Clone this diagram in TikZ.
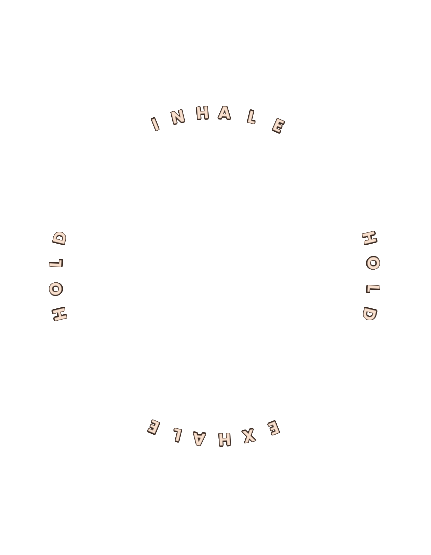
\documentclass[tikz,border=0pt]{standalone}
\usepackage{fontspec}
\setmainfont{Poppins}
\usepackage{contour}
\contourlength{0.5pt}
\contournumber{32}
\definecolor{peach}{HTML}{F8DFCD}
\definecolor{ink}{HTML}{3A2A22}
\begin{document}
\begin{tikzpicture}[x=1bp,y=1bp,
  letter/.style={font=\fontsize{17}{17}\selectfont\bfseries, inner sep=0pt, anchor=center}]
\useasboundingbox (0,0) rectangle (430,555);
\coordinate (c) at (215,278.5);
% INHALE (top)
\foreach \ang/\ch [count=\i] in {112/I,103.5/N,94.5/H,86.5/A,76.5/L,66.5/E}
  \node[letter, rotate=\ang-90] (in\i) at ([shift={(\ang:159 and 163.5)}]c) {\contour{ink}{\textcolor{peach}{\ch}}};
% HOLD (right)
\foreach \ang/\ch [count=\i] in {13.5/H,4.5/O,-4.5/L,-13.5/D}
  \node[letter, rotate=\ang-90] (hr\i) at ([shift={(\ang:159 and 163.5)}]c) {\contour{ink}{\textcolor{peach}{\ch}}};
% EXHALE (bottom)
\foreach \ang/\ch [count=\i] in {291.7/E,282.3/X,273.5/H,264.3/A,256.2/L,247.4/E}
  \node[letter, rotate=\ang-90] (ex\i) at ([shift={(\ang:159 and 163.5)}]c) {\contour{ink}{\textcolor{peach}{\ch}}};
% HOLD (left)
\foreach \ang/\ch [count=\i] in {193.5/H,184.5/O,175.5/L,166.5/D}
  \node[letter, rotate=\ang-90] (hl\i) at ([shift={(\ang:159 and 163.5)}]c) {\contour{ink}{\textcolor{peach}{\ch}}};
\end{tikzpicture}
\end{document}
